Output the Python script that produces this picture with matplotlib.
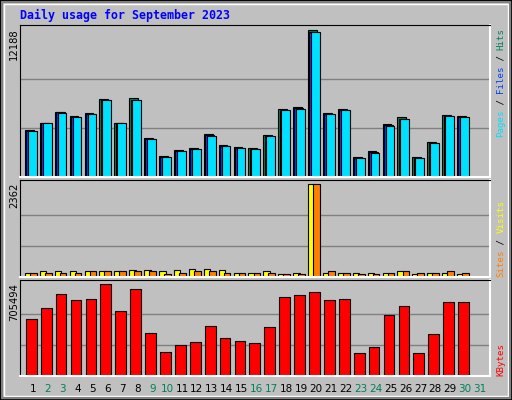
import matplotlib.pyplot as plt
from matplotlib.patches import Rectangle

# ================= Data ==================
days = list(range(1, 31))
hits = [3860, 4495, 5405, 5074, 5322, 6425, 4495, 6508, 3199, 1710,
        2206, 2371, 3530, 2620, 2454, 2371, 3447, 5598, 5763, 12188,
        5322, 5598, 1627, 2123, 4357, 4936, 1627, 2868, 5101, 5019]
files = [3800, 4450, 5350, 5000, 5240, 6380, 4450, 6350, 3150, 1650,
         2140, 2340, 3450, 2580, 2400, 2300, 3380, 5560, 5680, 12020,
         5240, 5520, 1580, 2040, 4270, 4830, 1580, 2840, 5030, 4950]
pages = [3780, 4430, 5330, 4980, 5220, 6360, 4430, 6330, 3130, 1620,
         2110, 2320, 3420, 2560, 2380, 2280, 3350, 5540, 5660, 11990,
         5220, 5500, 1560, 2010, 4250, 4810, 1560, 2820, 5010, 4930]
visits = [111, 145, 145, 145, 145, 145, 145, 171, 171, 145,
          171, 196, 196, 171, 111, 111, 145, 85, 111, 2362,
          111, 111, 111, 111, 111, 145, 85, 111, 111, 85]
sites = [111, 111, 111, 111, 145, 145, 145, 145, 145, 85,
         111, 145, 145, 111, 111, 111, 111, 85, 85, 2362,
         145, 111, 85, 85, 111, 145, 111, 111, 145, 111]
kbytes = [435000, 520000, 628000, 582000, 590000, 705494, 497000, 667000, 327000, 180000,
          234000, 257000, 381000, 288000, 265000, 250000, 373000, 605000, 620000, 644000,
          582000, 590000, 172000, 219000, 466000, 536000, 172000, 319000, 566000, 566000]
day_labels = [str(d) for d in range(1, 32)]
weekend = [2, 3, 9, 10, 16, 17, 23, 24, 30, 31]

BG = "#C0C0C0"
W, H = 512, 400
fig = plt.figure(figsize=(5.12, 4.0), dpi=100, facecolor=BG)

# bevel frame
fig.patches.append(Rectangle((0, 0), 1, 1, transform=fig.transFigure, fill=False,
                             edgecolor="black", lw=2))
fig.patches.append(Rectangle((4 / W, 4 / H), 1 - 8 / W, 1 - 8 / H, transform=fig.transFigure,
                             fill=False, edgecolor="white", lw=1))
fig.patches.append(Rectangle((2 / W, 2 / H), 1 - 4 / W, 1 - 4 / H, transform=fig.transFigure,
                             fill=False, edgecolor="#808080", lw=1.5))


def make_ax(top, bottom, ymax):
    a = fig.add_axes([20 / W, 1 - bottom / H, 470 / W, (bottom - top) / H])
    a.set_facecolor(BG)
    a.set_xlim(0.13, 31.67)
    a.set_ylim(0, ymax)
    a.set_xticks([])
    a.set_yticks([])
    for s in ["top", "left"]:
        a.spines[s].set_color("black")
    for s in ["bottom", "right"]:
        a.spines[s].set_color("white")
        a.spines[s].set_linewidth(1.5)
    for f in (1 / 3, 2 / 3):
        a.axhline(ymax_data[a] * f if False else 0, lw=0)
    return a


def grid(a, vmax):
    for f in (1 / 3, 2 / 3):
        a.axhline(vmax * f, color="#808080", lw=1, zorder=0)


ymax_data = {}
# ---- top panel
ax1 = make_ax(25, 177, 12188 * 152 / 147.4)
grid(ax1, 12188)
kw = dict(edgecolor="black", linewidth=0.8, align="edge", zorder=2)
ax1.bar([d - 0.54 for d in days], hits, width=0.59, color="#00805C", **kw)
ax1.bar([d - 0.45 for d in days], files, width=0.59, color="#0040FF", **kw)
ax1.bar([d - 0.34 for d in days], pages, width=0.59, color="#00E0FF", **kw)

# ---- middle panel
ax2 = make_ax(180, 277, 2362 * 96 / 92.3)
grid(ax2, 2362)
ax2.bar([d - 0.54 for d in days], visits, width=0.44, color="#FFFF00", **kw)
ax2.bar([d - 0.2 for d in days], sites, width=0.45, color="#FF8000", **kw)

# ---- bottom panel
ax3 = make_ax(280, 376, 705494 * 95 / 91.4)
grid(ax3, 705494)
ax3.bar([d - 0.47 for d in days], kbytes, width=0.72, color="#FF0000", **kw)

# title
fig.text(20 / W, 1 - 15 / H, "Daily usage for September 2023", color="#0000FF",
         family="DejaVu Sans Mono", weight="bold", fontsize=8.4, va="center")

# max labels
for txt, y in [("12188", 28), ("2362", 183), ("705494", 283)]:
    fig.text(14 / W, 1 - y / H, txt, rotation=90, ha="center", va="top", fontsize=7.2)

# right side labels
def side_label(parts, start_y, step=5.45):
    y = start_y
    for t, c in parts:
        fig.text(501 / W, 1 - y / H, t, rotation=90, ha="center", va="bottom",
                 color=c, family="DejaVu Sans Mono", fontsize=6.6)
        y -= step * len(t)

side_label([("Pages", "#00E0FF"), (" / ", "#000000"), ("Files", "#0040FF"),
            (" / ", "#000000"), ("Hits", "#00805C")], 137)
side_label([("Sites", "#FF8000"), (" / ", "#000000"), ("Visits", "#FFFF00")], 277)
side_label([("KBytes", "#FF0000")], 376)

# day labels
for i, lab in enumerate(day_labels):
    d = i + 1
    col = "#00805C" if d in weekend else "black"
    fig.text((33 + 14.9 * i) / W, 1 - 389 / H, lab, color=col, ha="center",
             va="center", fontsize=7.5)

fig.savefig("out.png", dpi=100, facecolor=BG)
